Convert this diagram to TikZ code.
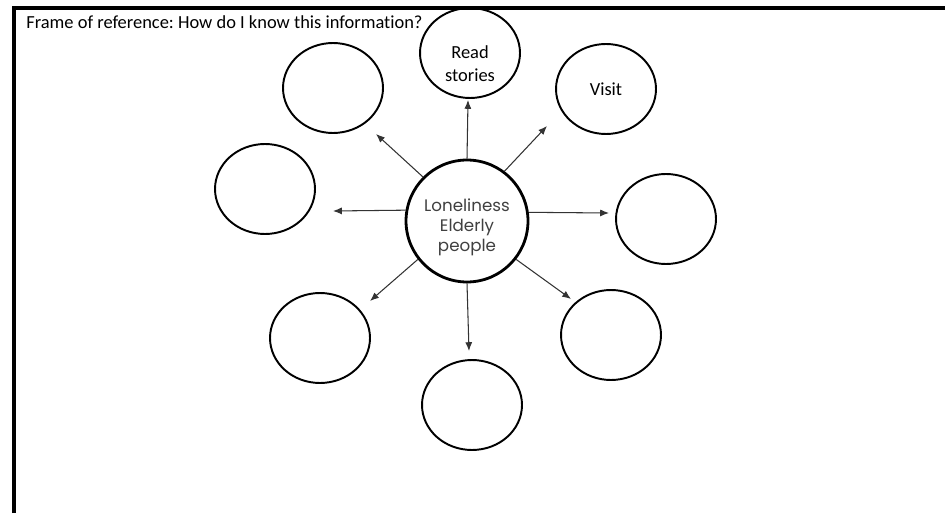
\documentclass[tikz,border=0pt]{standalone}
\usepackage{fontspec}
\setmainfont{Carlito}[Ligatures=NoCommon]
\newfontfamily\hubfont{Poppins}
\usetikzlibrary{shapes.geometric, arrows.meta}
\frenchspacing

\tikzset{
  bubble/.style={draw, ellipse, line width=1.1pt, minimum width=2cm, minimum height=1.8cm, inner sep=0pt, align=center},
  bubtxt/.style={font=\fontsize{10.5}{13}\selectfont, align=center},
  hubnode/.style={draw, circle, line width=1.6pt, minimum size=2.44cm, inner sep=0pt},
  hubtxt/.style={font=\hubfont\fontsize{9.5}{11.3}\selectfont, text=black!75, align=center, yshift=-0.12cm},
  spoke/.style={->, line width=0.6pt, black!80}
}

\begin{document}
\begin{tikzpicture}[x=0.02cm, y=-0.02cm, >={Latex[length=5pt,width=4pt]}]
\useasboundingbox (0,0) rectangle (945,513);

\node[hubnode, label={[hubtxt]center:Loneliness\\Elderly\\people}] (hub) at (467,221) {};

% the bubbles round the hub
\node[bubble, label={[bubtxt, yshift=-0.22cm]center:Read\\stories}] (rs) at (470,53) {};
\node[bubble, bubtxt] (vis) at (606,89) {Visit};
\node[bubble] (nw) at (333,88) {};
\node[bubble] (w) at (265,189) {};
\node[bubble] (e) at (666,219) {};
\node[bubble] (sw) at (320,338) {};
\node[bubble] (s) at (472,405) {};
\node[bubble] (se) at (611,335) {};

\coordinate (t1) at (468,100);
\coordinate (t2) at (547,126);
\coordinate (t3) at (376,134);
\coordinate (t4) at (333,211);
\coordinate (t5) at (609,213);
\coordinate (t6) at (370,301);
\coordinate (t7) at (469,351);
\coordinate (t8) at (571,299);

\path[spoke]
(hub.90) edge (t1)
(hub.53) edge (t2)
(hub.135) edge (t3)
(hub.170) edge (t4)
(hub.8) edge (t5)
(hub.218) edge (t6)
(hub.-90) edge (t7)
(hub.-38) edge (t8);

% frame
\draw[line width=2.3pt] (14,513) -- (14,8) -- (945,8);
\node[anchor=base west, inner sep=0pt, bubtxt] (title) at (26,29) {Frame of reference: How do I know this information?};
\end{tikzpicture}
\end{document}
